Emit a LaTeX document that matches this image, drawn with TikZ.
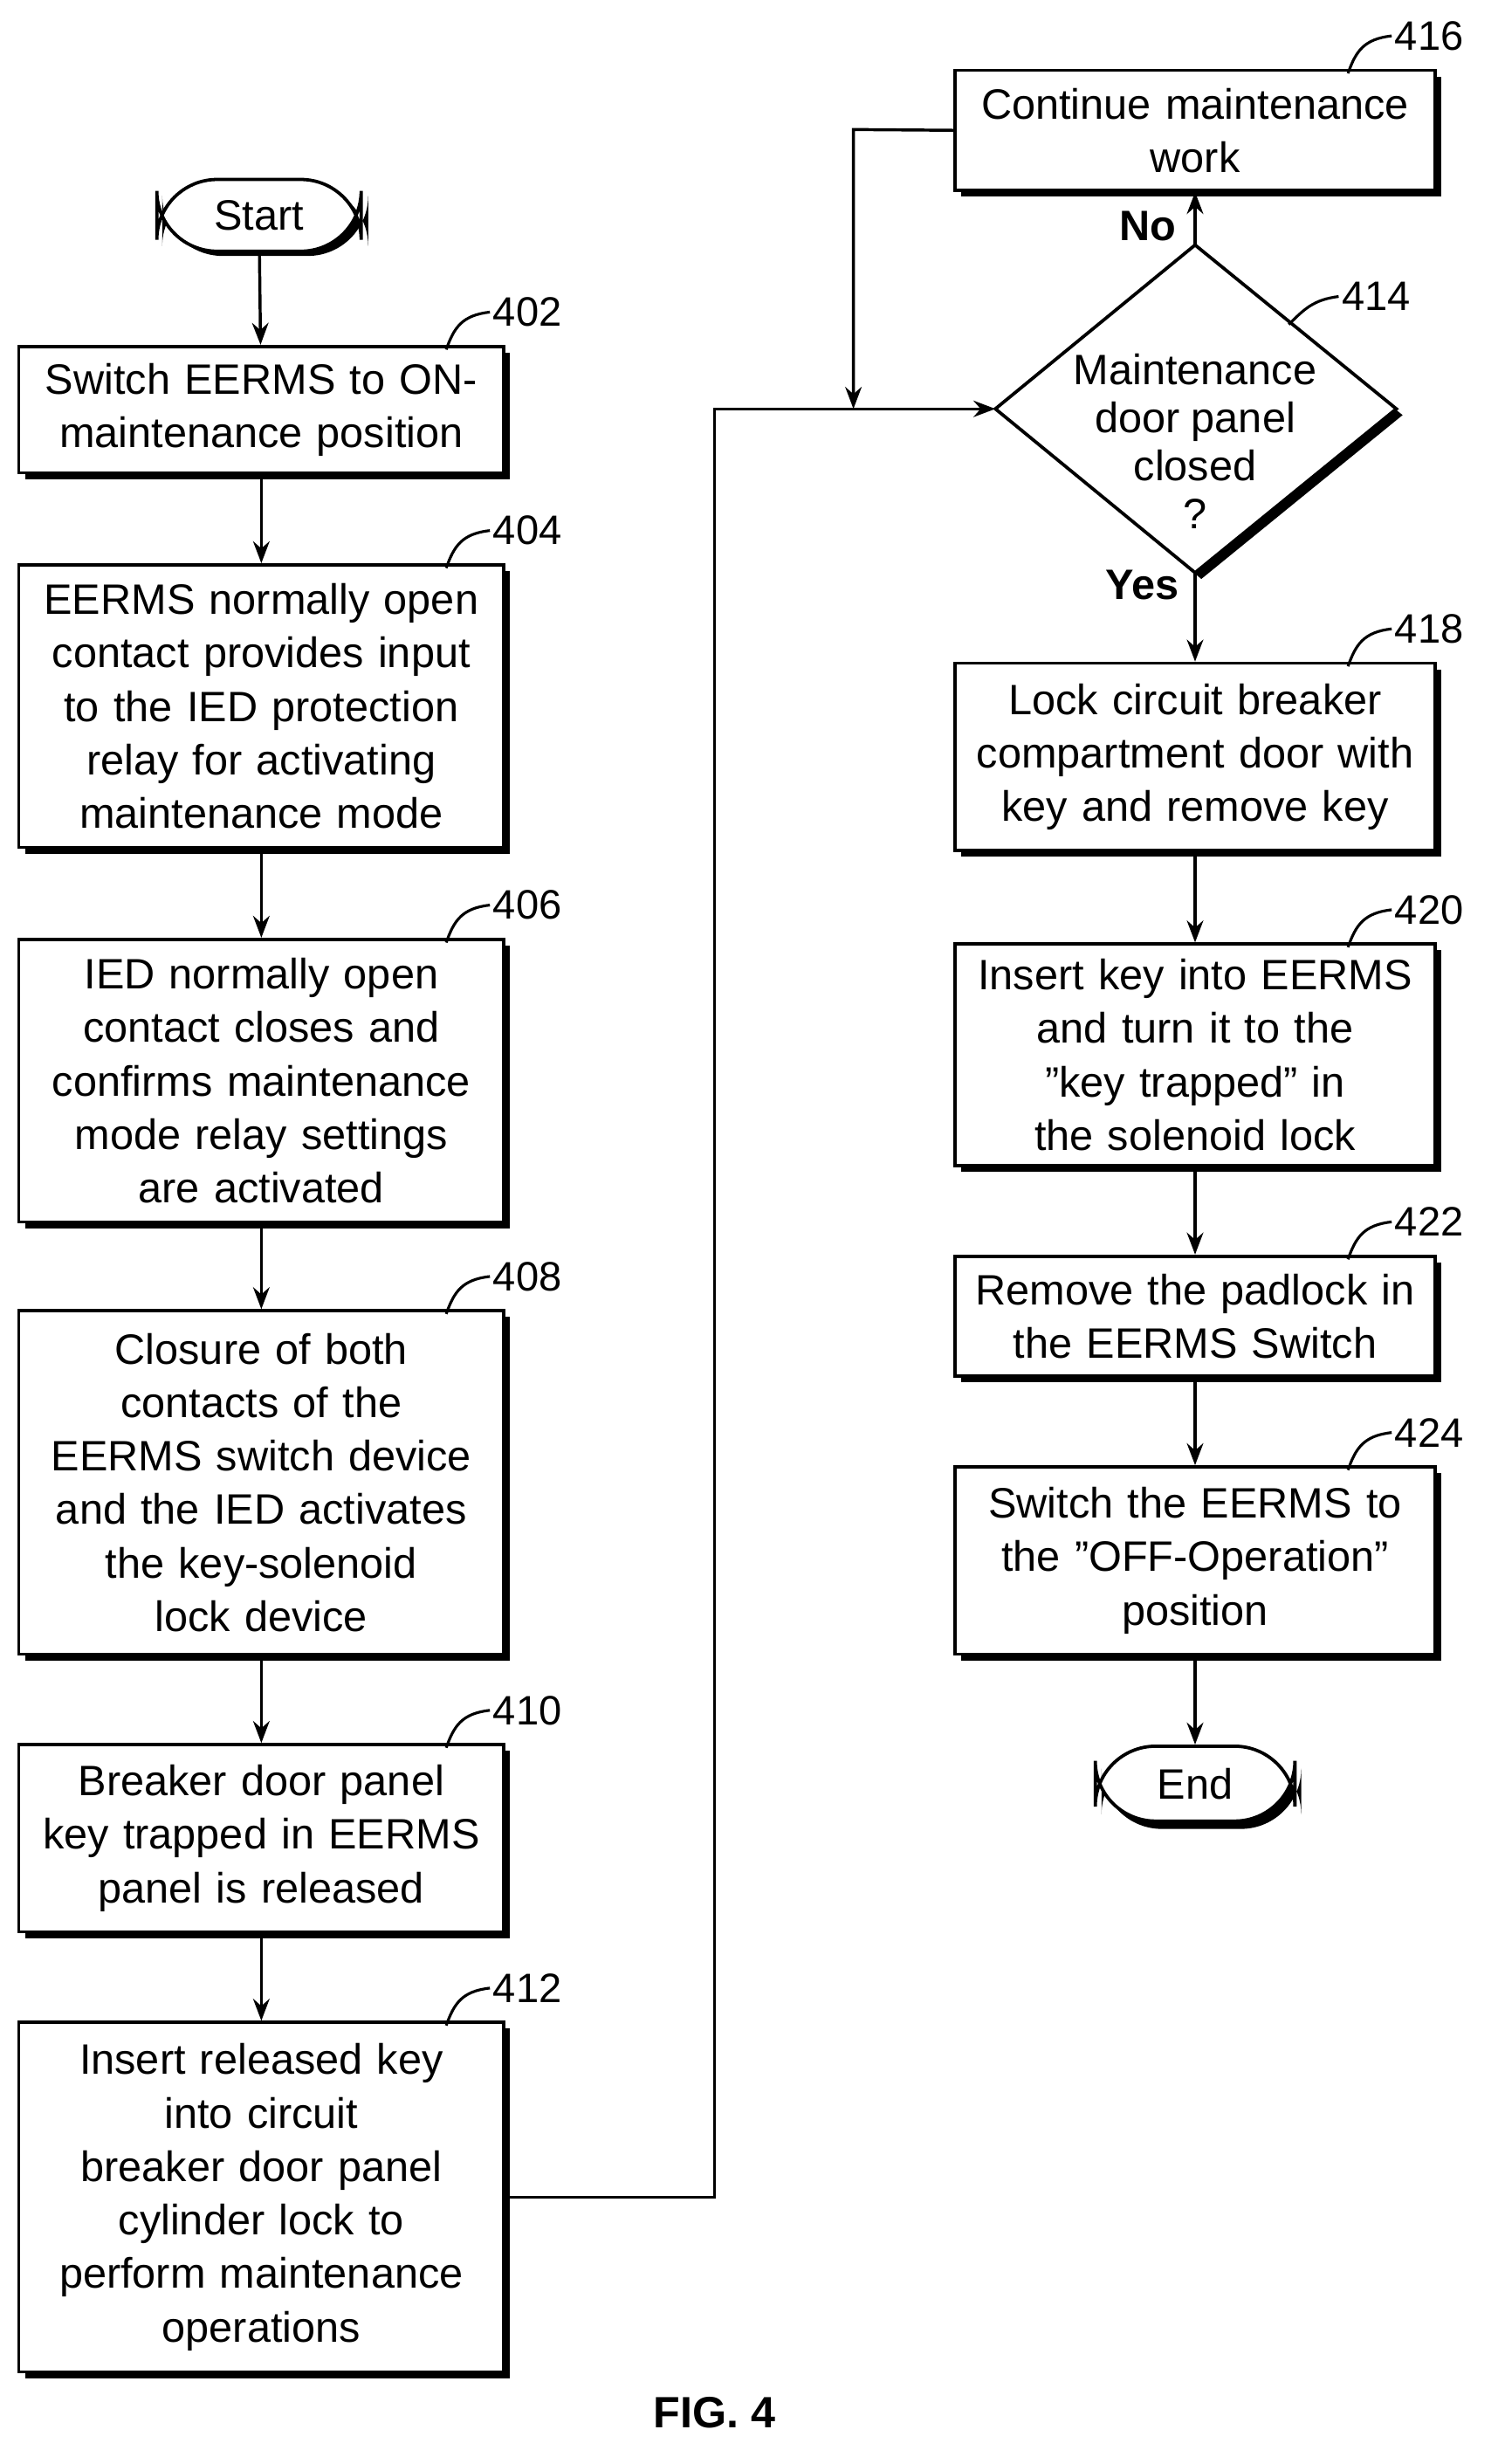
\documentclass[tikz,border=0pt]{standalone}
\usepackage{fontspec}
\setmainfont{Liberation Sans}
\usetikzlibrary{shapes.geometric,arrows.meta}
\begin{document}
\begin{tikzpicture}[x=0.02cm,y=-0.02cm,
  box/.style={draw,line width=1.2pt,fill=white,align=center,font=\fontsize{15.5}{19.5}\selectfont,inner sep=2pt,text width=6cm},
  arr/.style={-{Stealth[length=8pt,width=6pt]},line width=1.1pt},
  lead/.style={line width=1pt},
  num/.style={font=\fontsize{15}{17}\selectfont,anchor=west,inner sep=1pt}]
\useasboundingbox (0,0) rectangle (960,1579);
\newcommand{\pbox}[6]{% name, x1,y1,x2,y2, text
  \fill (#2+4,#3+4) rectangle (#4+4,#5+4);
  \pgfmathsetmacro{\bw}{(#4-#2)*0.02}\pgfmathsetmacro{\bh}{(#5-#3)*0.02}
  \node[box,minimum width=\bw cm,minimum height=\bh cm] (#1) at ({(#2+#4)/2},{(#3+#5)/2}) {#6};}
\newcommand{\lbl}[4]{% name, corner x,y, text
  \draw[lead] (#2-10,#3+2) .. controls (#2-5,#3-12) and (#2,#3-20) .. (#2+18,#3-22);
  \node[num] (#1) at (#2+18,#3-22) {#4};}
% Start
\fill[rounded corners=22] (104,119) rectangle (236,164);
\node[draw,line width=1.2pt,fill=white,rounded corners=22,minimum width=2.62cm,minimum height=0.92cm,font=\fontsize{15.5}{19}\selectfont] (start) at (166,138) {Start};
\pbox{b402}{12}{222}{323}{303}{Switch EERMS to ON-\\maintenance position}
\pbox{b404}{12}{362}{323}{543}{EERMS normally open\\contact provides input\\to the IED protection\\relay for activating\\maintenance mode}
\pbox{b406}{12}{602}{323}{783}{IED normally open\\contact closes and\\confirms maintenance\\mode relay settings\\are activated}
\pbox{b408}{12}{840}{323}{1060}{Closure of both\\contacts of the\\EERMS switch device\\and the IED activates\\the key-solenoid\\lock device}
\pbox{b410}{12}{1118}{323}{1238}{Breaker door panel\\key trapped in EERMS\\panel is released}
\pbox{b412}{12}{1296}{323}{1520}{Insert released key\\into circuit\\breaker door panel\\cylinder lock to\\perform maintenance\\operations}
\pbox{b416}{612}{45}{920}{122}{Continue maintenance\\work}
\pbox{b418}{612}{425}{920}{545}{Lock circuit breaker\\compartment door with\\key and remove key}
\pbox{b420}{612}{605}{920}{747}{Insert key into EERMS\\and turn it to the\\"key trapped" in\\the solenoid lock}
\pbox{b422}{612}{805}{920}{882}{Remove the padlock in\\the EERMS Switch}
\pbox{b424}{612}{940}{920}{1060}{Switch the EERMS to\\the "OFF-Operation"\\position}
% diamond
\fill (642,266)--(770,161)--(899,266)--(770,371)--cycle;
\draw[line width=1.2pt,fill=white] (638,262) coordinate (dl)--(766,157) coordinate (dt)--(895,262) coordinate (dr)--(766,367) coordinate (db)--cycle;
\node[align=center,font=\fontsize{15.5}{17.5}\selectfont] (d414) at (766,283) {Maintenance\\door panel\\closed\\?};
% End
\fill[rounded corners=22] (706,1124) rectangle (834,1172);
\node[draw,line width=1.2pt,fill=white,rounded corners=22,minimum width=2.56cm,minimum height=0.96cm,font=\fontsize{15.5}{19}\selectfont] (end) at (766,1143) {End};
% labels
\lbl{l402}{296}{222}{402}
\lbl{l404}{296}{362}{404}
\lbl{l406}{296}{602}{406}
\lbl{l408}{296}{840}{408}
\lbl{l410}{296}{1118}{410}
\lbl{l412}{296}{1296}{412}
\lbl{l416}{874}{45}{416}
\lbl{l418}{874}{425}{418}
\lbl{l420}{874}{605}{420}
\lbl{l422}{874}{805}{422}
\lbl{l424}{874}{940}{424}
\draw[lead] (826,208) .. controls (836,198) and (842,192) .. (858,190);
\node[num] (l414) at (858,190) {414};
% connectors
\draw[arr] (start) -- (b402);
\draw[arr] (b402) -- (b404);
\draw[arr] (b404) -- (b406);
\draw[arr] (b406) -- (b408);
\draw[arr] (b408) -- (b410);
\draw[arr] (b410) -- (b412);
\coordinate (j) at (547,262);
\coordinate (t1) at (323,1408);
\draw[arr] (t1) -- (458,1408) -- (458,262) -- (dl);
\draw[arr] (b416.west) -- (547,83) -- (j);
\draw[arr] (dt) -- (b416.south);
\node[font=\bfseries\fontsize{15.5}{17}\selectfont,anchor=east] (no) at (760,145) {No};
\draw[arr] (db) -- (b418);
\node[font=\bfseries\fontsize{15.5}{17}\selectfont,anchor=east] (yes) at (762,375) {Yes};
\draw[arr] (b418) -- (b420);
\draw[arr] (b420) -- (b422);
\draw[arr] (b422) -- (b424);
\draw[arr] (b424) -- (end);
\node[font=\bfseries\fontsize{16}{18}\selectfont] (fig) at (458,1546) {FIG. 4};
\end{tikzpicture}
\end{document}
